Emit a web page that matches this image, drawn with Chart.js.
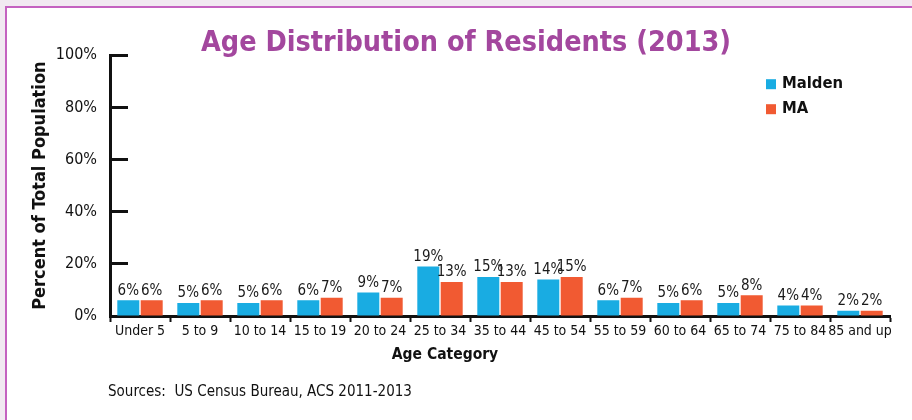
<!DOCTYPE html>
<html>
<head>
<meta charset="utf-8">
<script src="https://cdn.jsdelivr.net/npm/chart.js@4.4.1/dist/chart.umd.min.js"></script>
<style>
  html, body { margin: 0; padding: 0; }
  body { width: 912px; height: 420px; background: #f1e9f1; position: relative; overflow: hidden; }
  #frame { position: absolute; left: 5px; top: 6px; width: 1000px; height: 500px; background: #ffffff; border: 2px solid #c462c0; }
  #c { position: absolute; left: 0; top: 0; }
  #source { position: absolute; left: 108px; top: 382px; font-family: 'Liberation Sans Narrow', 'DejaVu Sans Condensed', sans-serif; font-size: 15px; color: #111; }
</style>
</head>
<body>
<div id="frame"></div>
<canvas id="c" width="912" height="420"></canvas>
<div id="source">Sources:&nbsp; US Census Bureau, ACS 2011-2013</div>
<script>
const categories = ['Under 5','5 to 9','10 to 14','15 to 19','20 to 24','25 to 34','35 to 44','45 to 54','55 to 59','60 to 64','65 to 74','75 to 84','85 and up'];
const maldenValues = [6,5,5,6,9,19,15,14,6,5,5,4,2];
const maValues = [6,6,6,7,7,13,13,15,7,6,8,4,2];
const yTicks = [0,20,40,60,80,100];
const seriesNames = ['Malden','MA'];
const chartTitle = 'Age Distribution of Residents (2013)';
const xTitle = 'Age Category';
const yTitle = 'Percent of Total Population';

const FONT = "'Liberation Sans Narrow', 'DejaVu Sans Condensed', sans-serif";
Chart.defaults.font.family = FONT;
Chart.defaults.color = '#111';

const barLabels = {
  id: 'barLabels',
  afterDatasetsDraw(chart) {
    const ctx = chart.ctx;
    ctx.save();
    ctx.font = '15px ' + FONT;
    ctx.fillStyle = '#1a1a1a';
    ctx.textAlign = 'center';
    ctx.textBaseline = 'bottom';
    chart.data.datasets.forEach((ds, i) => {
      chart.getDatasetMeta(i).data.forEach((bar, j) => {
        ctx.fillText(ds.data[j] + '%', bar.x, bar.y - 2);
      });
    });
    ctx.restore();
  }
};

const extras = {
  id: 'extras',
  afterDraw(chart) {
    const ctx = chart.ctx;
    const a = chart.chartArea;
    ctx.save();
    // legend
    ctx.font = 'bold 16.5px ' + FONT;
    ctx.textAlign = 'left';
    ctx.textBaseline = 'middle';
    chart.data.datasets.forEach((ds, i) => {
      const y = a.top + 29 + i * 25;
      const x = a.right - 124;
      ctx.fillStyle = ds.backgroundColor;
      ctx.fillRect(x, y - 5, 10, 10);
      ctx.fillStyle = '#111';
      ctx.fillText(ds.label, x + 16, y);
    });
    // x axis title
    ctx.font = 'bold 15.5px ' + FONT;
    ctx.textAlign = 'center';
    ctx.fillText(xTitle, (chart.width - 22) / 2, a.bottom + 39);
    ctx.restore();
  }
};

new Chart(document.getElementById('c'), {
  type: 'bar',
  data: {
    labels: categories,
    datasets: [
      { label: seriesNames[0], data: maldenValues, backgroundColor: '#19ace2', categoryPercentage: 0.78, barPercentage: 0.94 },
      { label: seriesNames[1], data: maValues, backgroundColor: '#f15a32', categoryPercentage: 0.78, barPercentage: 0.94 }
    ]
  },
  options: {
    responsive: false,
    animation: false,
    devicePixelRatio: 1,
    layout: { padding: { left: 42, right: 22, top: 0, bottom: 52 } },
    plugins: {
      legend: { display: false },
      tooltip: { enabled: false },
      title: {
        display: true,
        text: chartTitle,
        color: '#a3479e',
        font: { size: 28.5, weight: 'bold', family: FONT },
        padding: { top: 26, bottom: -5 }
      }
    },
    scales: {
      x: {
        z: 1,
        grid: { drawOnChartArea: false, drawTicks: true, tickLength: 6, tickWidth: 2, color: '#111', offset: true },
        border: { color: '#111', width: 3 },
        ticks: { font: { size: 14 }, color: '#111', padding: 1, maxRotation: 0, autoSkip: false },
        afterFit(scale) { scale.height = 52; }
      },
      y: {
        z: 1,
        min: 0,
        max: 100,
        afterBuildTicks(scale) { scale.ticks = yTicks.map(v => ({ value: v })); },
        ticks: { font: { size: 16 }, color: '#111', padding: 31, callback: v => v + '%' },
        grid: { drawOnChartArea: false, drawTicks: true, tickLength: -18, tickWidth: 3, color: '#111' },
        border: { color: '#111', width: 3 },
        title: { display: true, text: yTitle, color: '#111', font: { size: 18, weight: 'bold' }, padding: { top: -12.8, bottom: 0 } },
        afterFit(scale) { scale.width = 68; }
      }
    }
  },
  plugins: [barLabels, extras]
});
</script>
</body>
</html>
